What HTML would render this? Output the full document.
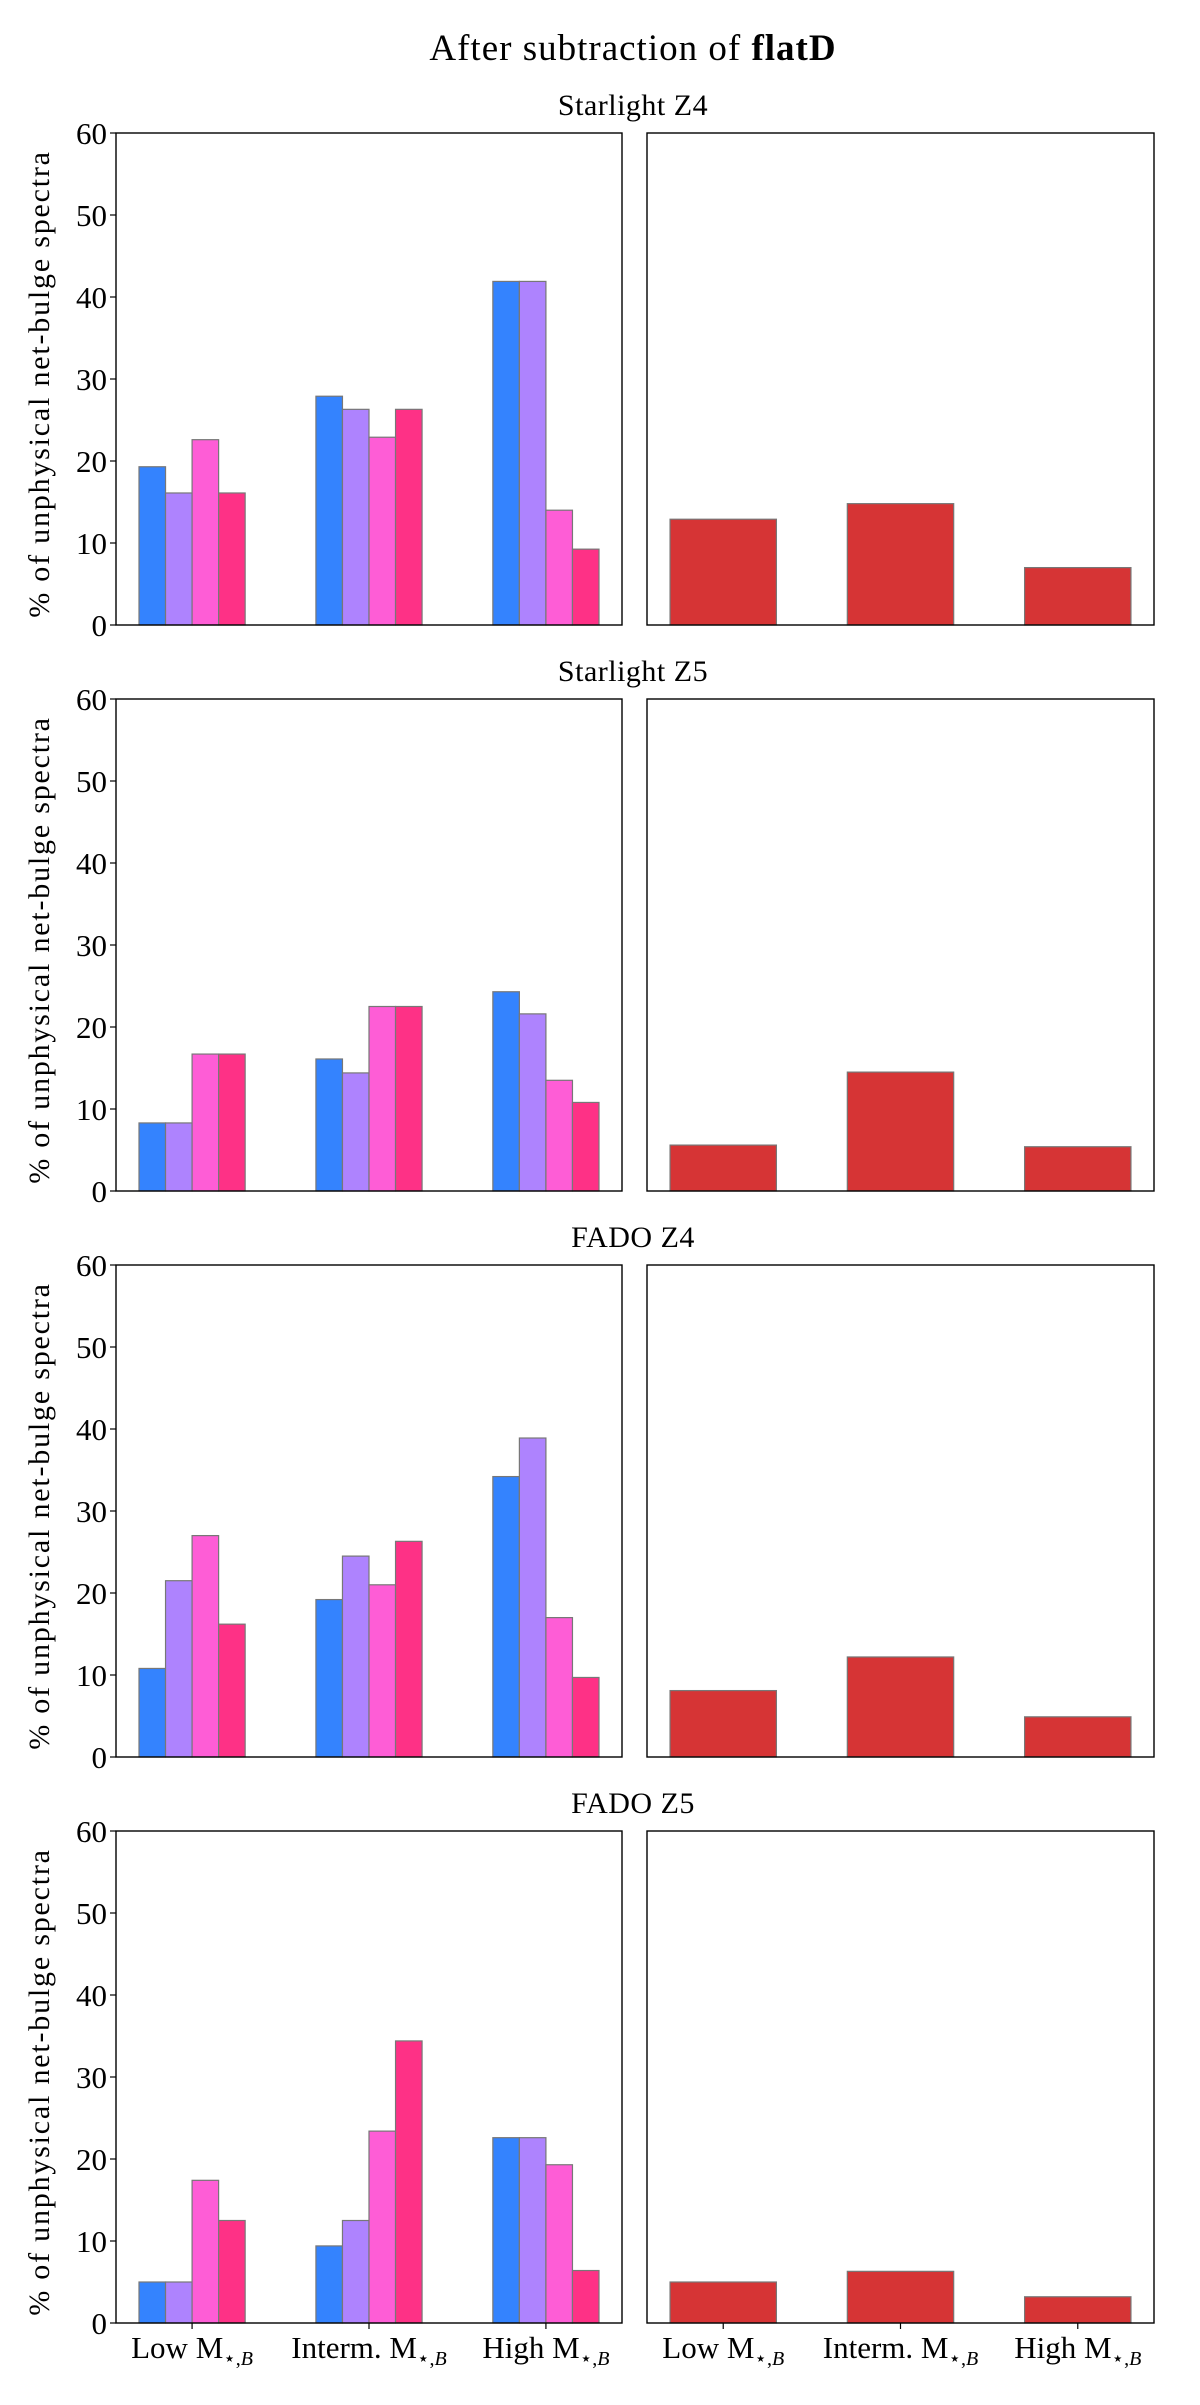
<!DOCTYPE html>
<html><head><meta charset="utf-8"><style>
html,body{margin:0;padding:0;background:#fff;}
svg{display:block;font-family:"Liberation Serif","DejaVu Serif",serif;}
</style></head><body>
<svg id="fig" width="1200" height="2405" viewBox="0 0 1200 2405" xmlns="http://www.w3.org/2000/svg">
<text x="633" y="60" font-size="37" text-anchor="middle" letter-spacing="1">After subtraction of <tspan font-weight="bold">flatD</tspan></text>
</svg>
<script>
const panelTitles = ["Starlight Z4","Starlight Z5","FADO Z4","FADO Z5"];
const categories = ["Low","Interm.","High"];
const yTicks = [0,10,20,30,40,50,60];
const seriesColors = ["#3483fe","#ae83fe","#fe5dd6","#fe3186"];
const s4Z4 = [[19.3,16.1,22.6,16.1],[27.9,26.3,22.9,26.3],[41.9,41.9,14.0,9.25]];
const s4Z5 = [[8.3,8.3,16.7,16.7],[16.1,14.4,22.5,22.5],[24.3,21.6,13.5,10.8]];
const fadoZ4 = [[10.8,21.5,27.0,16.2],[19.2,24.5,21.0,26.3],[34.2,38.9,17.0,9.7]];
const fadoZ5 = [[5.0,5.0,17.4,12.5],[9.4,12.5,23.4,34.4],[22.6,22.6,19.3,6.4]];
const groupedData = [s4Z4,s4Z5,fadoZ4,fadoZ5];
const totalsZ4s = [12.9,14.8,7.0];
const totalsZ5s = [5.6,14.5,5.4];
const totalsZ4f = [8.1,12.2,4.9];
const totalsZ5f = [5.0,6.3,3.2];
const totalData = [totalsZ4s,totalsZ5s,totalsZ4f,totalsZ5f];

const NS="http://www.w3.org/2000/svg";
const svg=document.getElementById('fig');
function mk(tag,attrs,parent){const e=document.createElementNS(NS,tag);for(const k in attrs)e.setAttribute(k,attrs[k]);(parent||svg).appendChild(e);return e;}
const top0=133, ph=492, gap=566;
const L={x0:116,x1:622}, R={x0:647,x1:1154};
const xmin=-0.43,xmax=2.43;
function xs(ax,v){return ax.x0+(v-xmin)/(xmax-xmin)*(ax.x1-ax.x0);}
for(let p=0;p<4;p++){
  const t=top0+p*gap, b=t+ph;
  const ys=v=>b-v/60*ph;
  const g=mk('g',{});
  
  
  const tt=mk('text',{x:633,y:t-18,'font-size':30,'text-anchor':'middle','letter-spacing':0.5},g);
  tt.textContent=panelTitles[p];
  
  
  const bw=0.15;
  groupedData[p].forEach((grp,ci)=>{
    grp.forEach((v,si)=>{
      const xc=ci+(si-1.5)*bw;
      const x0=xs(L,xc-bw/2), x1=xs(L,xc+bw/2);
      const r=mk('rect',{x:x0,y:ys(v),width:x1-x0,height:ys(0)-ys(v),fill:seriesColors[si],stroke:'#777','stroke-width':1.2},g);
      
      
    });
  });
  totalData[p].forEach((v,ci)=>{
    const x0=xs(R,ci-0.3), x1=xs(R,ci+0.3);
    const r=mk('rect',{x:x0,y:ys(v),width:x1-x0,height:ys(0)-ys(v),fill:'#d63435',stroke:'#777','stroke-width':1.2},g);
    
    
  });
  [L,R].forEach((ax,ai)=>{
    const fr=mk('rect',{x:ax.x0,y:t,width:ax.x1-ax.x0,height:ph,fill:'none',stroke:'#000','stroke-width':1.4},g);
    
    
  });
  yTicks.forEach(v=>{
    mk('line',{x1:L.x0-6,x2:L.x0,y1:ys(v),y2:ys(v),stroke:'#000','stroke-width':1.2},g);
    const tl=mk('text',{x:L.x0-9,y:ys(v)+11,'font-size':31,'text-anchor':'end'},g);
    tl.textContent=v;
    
    
  });
  const yl=mk('text',{x:0,y:0,'font-size':30,'text-anchor':'middle','letter-spacing':1.8,transform:`translate(49,${t+ph/2+5}) rotate(-90)`},g);
  yl.textContent='% of unphysical net-bulge spectra';
  
  
  if(p===3){
    [L,R].forEach(ax=>{
      categories.forEach((c,ci)=>{
        const x=xs(ax,ci);
        mk('line',{x1:x,x2:x,y1:b,y2:b+6,stroke:'#000','stroke-width':1.2},g);
        const xl=mk('text',{x:x,y:b+35,'font-size':31,'text-anchor':'middle'},g);
        xl.innerHTML=c+' M<tspan font-size="20" dy="7">⋆,<tspan font-style="italic">B</tspan></tspan>';
        
        
      });
    });
  }
}
</script>
</body></html>
